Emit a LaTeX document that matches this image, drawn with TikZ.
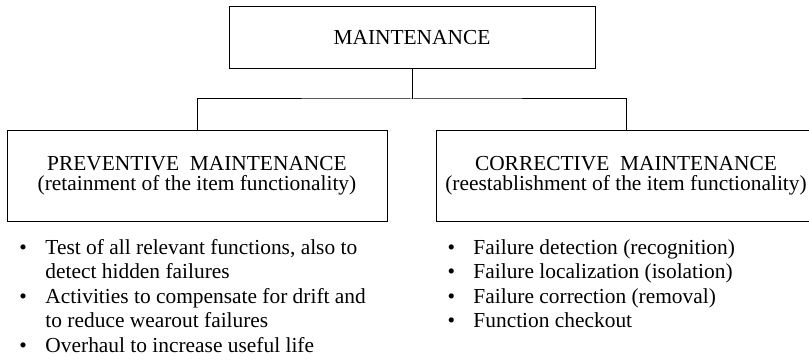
\documentclass[tikz,border=0pt]{standalone}
\usepackage{fontspec}
\setmainfont{Liberation Serif}
\usepackage{tikz}

\begin{document}
\begin{tikzpicture}[x=1pt,y=1pt,line width=1pt]
				\tikzstyle{box}=[rectangle,draw=black,inner sep=0pt,align=center,font=\fontsize{21.4}{20.5}\selectfont]
				\tikzstyle{items}=[inner sep=0pt,anchor=base west,font=\fontsize{21.4}{24.5}\selectfont]
				\useasboundingbox (0,0) rectangle (809,-361);
				\node[box,minimum width=366,minimum height=62](main) at (412,-38){MAINTENANCE};
				\node[box,minimum width=380,minimum height=91](prev) at (197,-175.5){PREVENTIVE\ \ MAINTENANCE\\(retainment of the item functionality)};
				\node[box,minimum width=380,minimum height=91](corr) at (626,-175.5){CORRECTIVE\ \ MAINTENANCE\\(reestablishment of the item functionality)};
				\coordinate(split) at (412,-99);

				\node[items](prevlist) at (19,-254){\begin{tabular}[t]{@{}l@{}l@{}}
					\makebox[26pt][l]{\textbullet} & Test of all relevant functions, also to\\
					& detect hidden failures\\
					\makebox[26pt][l]{\textbullet} & Activities to compensate for drift and\\
					& to reduce wearout failures\\
					\makebox[26pt][l]{\textbullet} & Overhaul to increase useful life
				\end{tabular}};
				\node[items](corrlist) at (447,-254){\begin{tabular}[t]{@{}l@{}l@{}}
					\makebox[26pt][l]{\textbullet} & Failure detection (recognition)\\
					\makebox[26pt][l]{\textbullet} & Failure localization (isolation)\\
					\makebox[26pt][l]{\textbullet} & Failure correction (removal)\\
					\makebox[26pt][l]{\textbullet} & Function checkout
				\end{tabular}};

				\draw (main.south) -- (split);
				\draw (prev.north) |- (split) -| (corr.north);
			\end{tikzpicture}
\end{document}
